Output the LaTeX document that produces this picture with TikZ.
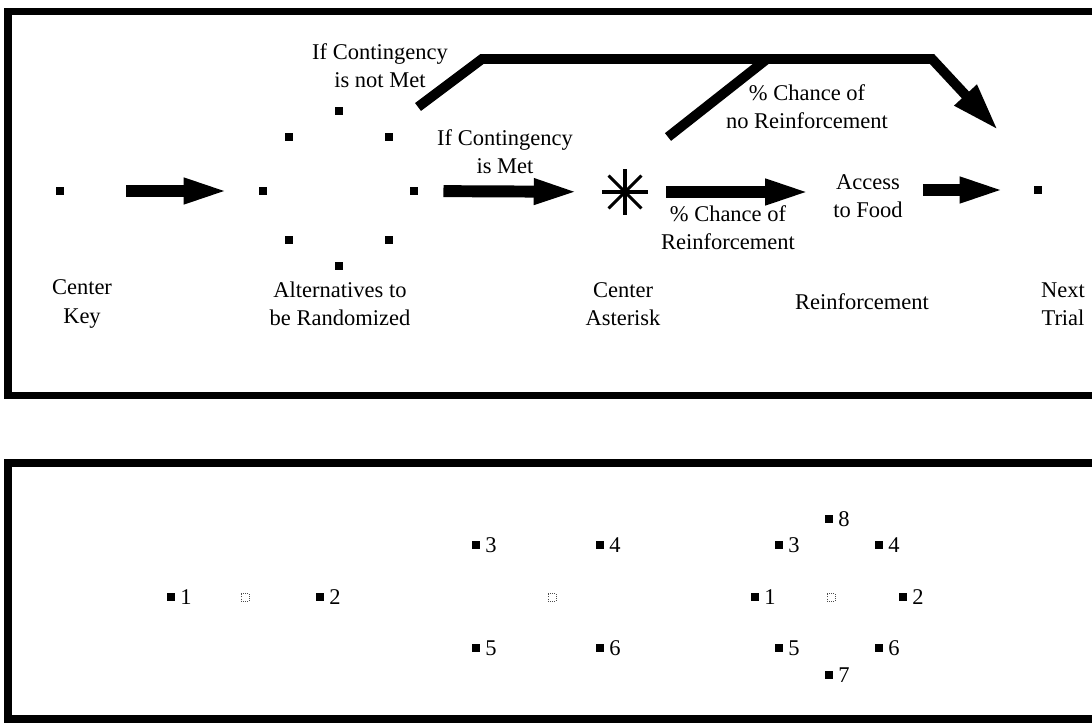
\documentclass[tikz,border=0pt]{standalone}
\usepackage{fontspec}
\setmainfont{Liberation Serif}
\usetikzlibrary{arrows.meta}
\tikzset{
  frame/.style={draw=black, line width=5pt},
  dot/.style={fill=black, minimum size=0.21cm, inner sep=0pt},
  keysq/.style={fill=black, minimum size=0.21cm, inner sep=0pt, label distance=-0.5pt},
  ghost/.style={draw=black!70, densely dotted, line width=0.5pt, minimum size=0.2cm, inner sep=0pt},
  lbl/.style={align=center, inner sep=0pt},
  spoke/.style={line width=2.2pt},
  fat/.style={-{Triangle[length=34pt,width=16pt]}, line width=8.5pt},
  route/.style={-{Triangle[length=34pt,width=20pt]}, line width=7pt},
}

\begin{document}
\begin{tikzpicture}[x=1cm, y=1cm, font=\fontsize{16}{20}\selectfont]
  \useasboundingbox (0,0) rectangle (27.3,-18.1);

  % ---------------- trial sequence ----------------
  \draw[frame] (0.2,-0.29) rectangle (27.8,-9.89);
  \node[dot] (key) at (1.5,-4.775) {};
  \node[dot] (altL) at (6.575,-4.775) {};
  \node[dot] (altR) at (10.35,-4.775) {};
  \node[dot] (altT) at (8.475,-2.775) {};
  \node[dot] (altB) at (8.475,-6.65) {};
  \node[dot] (altUL) at (7.225,-3.425) {};
  \node[dot] (altUR) at (9.725,-3.425) {};
  \node[dot] (altLL) at (7.225,-6.0) {};
  \node[dot] (altLR) at (9.725,-6.0) {};
  \node[circle, minimum size=1.16cm, inner sep=0pt] (ast) at (15.625,-4.8) {};
  \foreach \a in {0,45,...,315}
    \draw[spoke] (ast.center) -- ++(\a:0.58);
  \node[lbl] (food) at (21.7,-4.9) {Access\\to Food};
  \node[dot] (next) at (25.95,-4.75) {};

  \node[lbl] (notmet) at (9.5,-1.65) {If Contingency\\is not Met};
  \node[lbl] (met) at (12.625,-3.8) {If Contingency\\is Met};
  \node[lbl] (noreinf) at (20.175,-2.675) {\% Chance of\\no Reinforcement};
  \node[lbl] (reinf) at (18.2,-5.7) {\% Chance of\\Reinforcement};

  \node[lbl] (keylbl) at (2.05,-7.6) {Center\\Key};
  \node[lbl] (altlbl) at (8.5,-7.6) {Alternatives to\\be Randomized};
  \node[lbl] (astlbl) at (15.575,-7.6) {Center\\Asterisk};
  \node[lbl] (reinflbl) at (21.55,-7.55) {Reinforcement};
  \node[lbl] (nextlbl) at (26.575,-7.6) {Next\\Trial};

  % arrows
  \draw[fat, shorten <=1.55cm, shorten >=0.675cm] (key) -- (altL);
  \draw[fat, shorten <=0.625cm, shorten >=0.5cm] (altR) -- (ast);
  \draw[fat, shorten <=0.45cm, shorten >=0.5cm] (ast) -- (ast -| food.west);
  \draw[fat, shorten <=0.5cm, shorten >=0.65cm] (food.east |- next) -- (next);

  \coordinate (fail) at (10.45,-2.675);
  \coordinate (miss) at (16.7,-3.425);
  \coordinate (tip) at (24.95,-3.25);
  \draw[route] (fail) -- (12.05,-1.475) -- (23.3,-1.475) -- (tip);
  \draw[line width=7pt] (miss) -- (19.175,-1.475);

  % ---------------- key positions ----------------
  \draw[frame] (0.2,-11.575) rectangle (27.8,-17.975);
  % two keys
  \foreach \n/\x/\y in {1/4.275/-14.925, 2/8.0/-14.925}
    \node[keysq, label=right:\n] (a\n) at (\x,\y) {};
  \node[ghost] (ac) at (6.125,-14.925) {};
  % four keys
  \foreach \n/\x/\y in {3/11.9/-13.625, 4/15.0/-13.625, 5/11.9/-16.2, 6/15.0/-16.2}
    \node[keysq, label=right:\n] (b\n) at (\x,\y) {};
  \node[ghost] (bc) at (13.8,-14.925) {};
  % eight keys
  \foreach \n/\x/\y in {8/20.725/-12.975, 3/19.475/-13.625, 4/21.975/-13.625,
                        1/18.875/-14.925, 2/22.575/-14.925,
                        5/19.475/-16.2, 6/21.975/-16.2, 7/20.725/-16.875}
    \node[keysq, label=right:\n] (c\n) at (\x,\y) {};
  \node[ghost] (cc) at (20.775,-14.925) {};
\end{tikzpicture}
\end{document}
